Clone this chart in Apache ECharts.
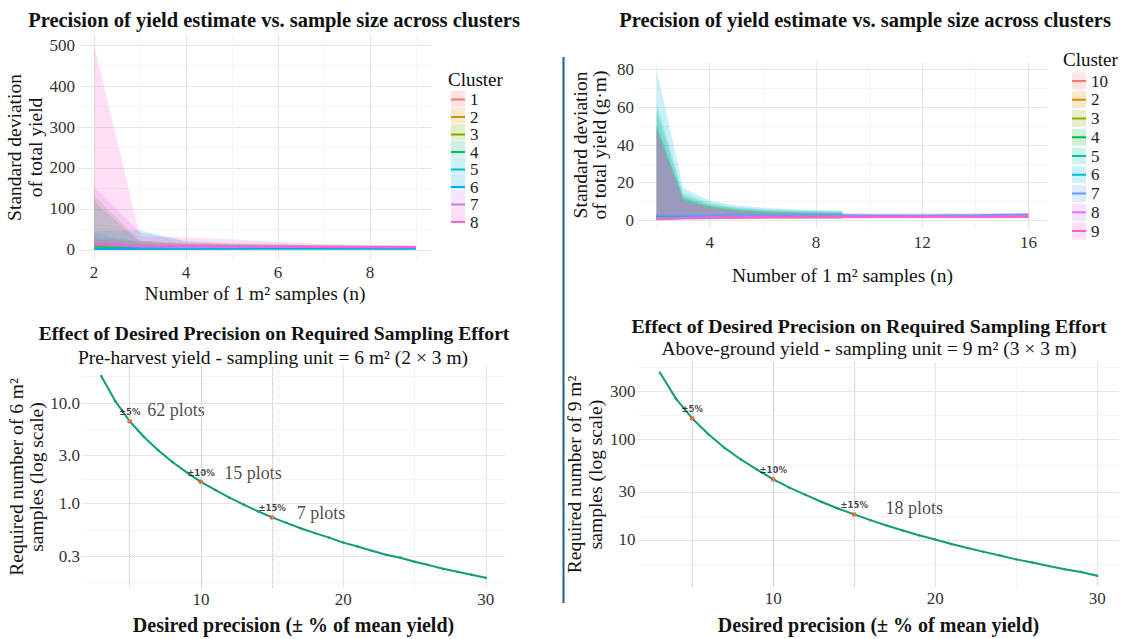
<!DOCTYPE html>
<html>
<head>
<meta charset="utf-8">
<script src="https://cdn.jsdelivr.net/npm/echarts@6/dist/echarts.min.js"></script>
<style>
html, body { margin: 0; padding: 0; background: #fff; }
#main { width: 1124px; height: 639px; }
</style>
</head>
<body>
<div id="main"></div>
<script>
var SERIF = '"Liberation Serif", "Times New Roman", serif';
var SANS = '"DejaVu Sans", sans-serif';

// ---- panel 1: SD of total yield vs. number of 1 m2 samples, clusters 1-8
var p1Sizes = [2, 3, 4, 5, 6, 7, 8, 9];
var p1Clusters = ['1', '2', '3', '4', '5', '6', '7', '8'];
var p1Colors = ['#F8766D', '#CD9600', '#7CAE00', '#00BE67', '#00BFC4', '#00A9FF', '#C77CFF', '#FF61CC'];
var p1Mean = [
  [9, 7, 6, 6, 6, 5, 5, 5],
  [7, 6, 6, 5, 5, 5, 5, 5],
  [10, 7, 6, 6, 5, 5, 5, 5],
  [3, 2, 3, 3, 3, 3, 3, 3],
  [5, 3, 3, 3, 3, 3, 3, 3],
  [2, 3, 3, 3, 4, 4, 4, 4],
  [14, 8, 7, 7, 7, 7, 6, 6],
  [16, 10, 9, 8, 8, 7, 7, 7]
];
var p1Low = [
  [0, 2, 3, 3, 3, 3, 3, 3],
  [0, 1, 2, 2, 2, 2, 3, 3],
  [0, 0, 1, 2, 2, 2, 2, 2],
  [0, 0, 0, 1, 1, 1, 1, 1],
  [0, 0, 0, 1, 1, 1, 1, 1],
  [0, 0, 1, 1, 1, 2, 2, 2],
  [0, 1, 2, 3, 3, 3, 3, 3],
  [0, 1, 2, 3, 3, 3, 3, 3]
];
var p1High = [
  [30, 22, 15, 13, 12, 11, 10, 10],
  [25, 20, 14, 12, 11, 10, 9, 9],
  [132, 22, 16, 14, 12, 11, 10, 9],
  [118, 18, 14, 12, 10, 9, 8, 8],
  [45, 48, 20, 15, 13, 11, 10, 9],
  [42, 14, 11, 10, 9, 8, 8, 8],
  [155, 42, 21, 16, 14, 12, 11, 10],
  [500, 33, 30, 26, 19, 15, 12, 11]
];
var p1XTicks = [2, 4, 6, 8], p1XMinor = [3, 5, 7, 9];
var p1YTicks = [0, 100, 200, 300, 400, 500], p1YMinor = [50, 150, 250, 350, 450];

// ---- panel 2: SD of total yield (g·m), clusters 10, 2-9
var p2Short = [2, 3, 4, 5, 6, 7, 8, 9];
var p2Long = [2, 3, 4, 5, 6, 7, 8, 9, 10, 11, 12, 13, 14, 15, 16];
var p2Clusters = ['10', '2', '3', '4', '5', '6', '7', '8', '9'];
var p2Colors = ['#F8766D', '#D39200', '#93AA00', '#00BA38', '#00C19F', '#00B9E3', '#619CFF', '#DB72FB', '#FF61C3'];
var p2Sizes = [p2Short, p2Short, p2Short, p2Short, p2Short, p2Short, p2Long, p2Long, p2Long];
var p2Mean = [
  [2.6, 2.4, 2.3, 2.3, 2.2, 2.2, 2.2, 2.2],
  [2.3, 2.2, 2.1, 2.1, 2.1, 2.0, 2.0, 2.0],
  [2.0, 2.0, 2.0, 2.0, 2.0, 2.0, 2.0, 2.0],
  [1.8, 1.9, 2.0, 2.0, 2.0, 2.0, 2.0, 2.0],
  [1.5, 1.8, 1.9, 1.9, 2.0, 2.0, 2.0, 2.0],
  [1.0, 1.5, 1.7, 1.8, 1.9, 1.9, 2.0, 2.0],
  [2.6, 2.7, 2.7, 2.7, 2.7, 2.7, 2.7, 2.7, 2.6, 2.6, 2.6, 2.7, 2.8, 3.0, 3.1],
  [1.2, 1.5, 1.7, 1.8, 1.8, 1.9, 1.9, 1.9, 1.9, 1.9, 1.9, 1.9, 1.9, 2.0, 2.0],
  [0.9, 1.3, 1.5, 1.6, 1.7, 1.8, 1.8, 1.9, 2.0, 2.0, 2.0, 2.0, 2.1, 2.1, 2.1]
];
var p2Low = [
  [0.3, 0.8, 1.0, 1.1, 1.2, 1.2, 1.3, 1.3],
  [0.2, 0.7, 0.9, 1.0, 1.1, 1.1, 1.2, 1.2],
  [0.2, 0.6, 0.9, 1.0, 1.0, 1.1, 1.1, 1.1],
  [0.1, 0.6, 0.8, 0.9, 1.0, 1.0, 1.1, 1.1],
  [0.1, 0.5, 0.7, 0.9, 1.0, 1.0, 1.0, 1.1],
  [0.0, 0.4, 0.7, 0.8, 0.9, 1.0, 1.0, 1.0],
  [0.4, 0.9, 1.1, 1.2, 1.3, 1.3, 1.4, 1.4, 1.4, 1.4, 1.5, 1.5, 1.5, 1.6, 1.6],
  [0.2, 0.6, 0.8, 0.9, 1.0, 1.0, 1.1, 1.1, 1.1, 1.2, 1.2, 1.2, 1.2, 1.2, 1.3],
  [0.1, 0.5, 0.7, 0.8, 0.9, 1.0, 1.0, 1.1, 1.1, 1.1, 1.2, 1.2, 1.2, 1.2, 1.2]
];
var p2High = [
  [48, 11, 7.0, 5.5, 4.6, 4.2, 3.9, 3.7],
  [50, 11.5, 7.2, 5.6, 4.7, 4.3, 4.0, 3.8],
  [51, 12, 7.6, 5.9, 4.9, 4.4, 4.1, 3.9],
  [58, 13, 8.5, 6.5, 5.5, 5.0, 4.7, 4.5],
  [62, 14.5, 9.2, 7.0, 6.0, 5.4, 5.1, 4.9],
  [80, 17.5, 10.5, 8.0, 6.8, 6.1, 5.6, 5.3],
  [50, 11, 7.0, 5.2, 4.5, 4.2, 4.0, 3.9, 3.9, 3.9, 3.8, 3.8, 3.9, 4.0, 4.1],
  [49, 10.5, 6.8, 5.0, 4.2, 3.8, 3.5, 3.3, 3.1, 3.0, 3.0, 2.9, 2.9, 2.9, 2.9],
  [47, 10, 6.5, 4.8, 4.0, 3.6, 3.3, 3.1, 2.9, 2.8, 2.8, 2.8, 2.8, 2.8, 2.8]
];
var p2XTicks = [4, 8, 12, 16], p2XMinor = [2, 6, 10, 14];
var p2YTicks = [0, 20, 40, 60, 80], p2YMinor = [10, 30, 50, 70];

// ---- panel 3: pre-harvest, required 6 m2 samples vs desired precision
var p3Precision = [3, 4, 5, 6, 7, 8, 9, 10, 11, 12, 13, 14, 15, 16, 17, 18, 19, 20, 21, 22, 23, 24, 25, 26, 27, 28, 29, 30];
var p3Needed = [18.6, 10.4, 6.6, 4.6, 3.4, 2.6, 2.05, 1.65, 1.37, 1.15, 0.98, 0.84, 0.73, 0.645, 0.57, 0.51,
  0.46, 0.41, 0.375, 0.34, 0.31, 0.29, 0.265, 0.245, 0.225, 0.21, 0.196, 0.183];
var p3MarkX = [5, 10, 15], p3MarkY = [6.6, 1.65, 0.73];
var markText = ['±5%', '±10%', '±15%'];
var p3CountX = [6.2, 11.6, 16.7], p3CountY = [8.5, 2.0, 0.81];
var p3CountText = ['62 plots', '15 plots', '7 plots'];
var p3XTicks = [10, 20, 30], precMinor = [5, 15, 25];
var p3YTicks = [0.3, 1, 3, 10], p3YMinor = [0.164, 0.548, 1.73, 5.48, 18.3];

// ---- panel 4: above-ground, required 9 m2 samples vs desired precision
var p4Precision = p3Precision;
var p4Needed = [460, 252, 161, 112, 82, 63, 50, 40, 33, 28, 23.8, 20.5, 17.9, 15.7, 13.9, 12.4,
  11.1, 10.1, 9.1, 8.3, 7.6, 7.0, 6.4, 5.95, 5.5, 5.1, 4.8, 4.4];
var p4MarkX = [5, 10, 15], p4MarkY = [161, 40, 17.9];
var p4CountX = [16.9], p4CountY = [20.6], p4CountText = ['18 plots'];
var p4YTicks = [10, 30, 100, 300], p4YMinor = [5.77, 17.3, 54.8, 173, 520];

var precisionName = 'Desired precision (± % of mean yield)';
var samplesName = 'Number of 1 m² samples (n)';

function zip(xs, ys) {
  return xs.map(function (x, i) { return [x, ys[i]]; });
}

function majorAxis(grid, type, min, max, ticks, labelMargin, fmt, name, nameGap, nameStyle) {
  var ax = {
    type: type, gridIndex: grid, min: min, max: max,
    axisLine: { show: false },
    axisTick: { show: false, customValues: ticks },
    axisLabel: { customValues: ticks, margin: labelMargin, color: '#333', fontFamily: SERIF, fontSize: 17 },
    splitLine: { show: true, lineStyle: { color: '#e6e6e6', width: 1.2 } },
    name: name, nameLocation: 'middle', nameGap: nameGap,
    nameTextStyle: Object.assign({ fontFamily: SERIF, color: '#141414', fontSize: 19.5 }, nameStyle)
  };
  if (fmt) ax.axisLabel.formatter = fmt;
  if (type === 'log') ax.logBase = 10;
  return ax;
}

function minorAxis(grid, type, min, max, values, position) {
  var ax = {
    type: type, gridIndex: grid, min: min, max: max, position: position,
    axisLine: { show: false },
    axisTick: { show: false, customValues: values },
    axisLabel: { show: false },
    splitLine: { show: true, lineStyle: { color: '#f2f2f2', width: 0.8 } }
  };
  if (type === 'log') ax.logBase = 10;
  return ax;
}

function ribbon(id, axis, xs, lo, hi, color, alpha) {
  var data = xs.map(function (x, i) { return [x, lo[i], hi[i]]; });
  return {
    type: 'custom', name: id + ' band', xAxisIndex: axis, yAxisIndex: axis,
    data: data, encode: { x: 0, y: [1, 2] }, silent: true, z: 1,
    renderItem: function (params, api) {
      if (params.dataIndex !== 0) return null;
      var top = [], bottom = [];
      for (var i = 0; i < data.length; i++) {
        top.push(api.coord([data[i][0], data[i][2]]));
        bottom.unshift(api.coord([data[i][0], data[i][1]]));
      }
      return { type: 'polygon', shape: { points: top.concat(bottom) }, style: { fill: color, opacity: alpha } };
    }
  };
}

function meanLine(id, axis, xs, ys, color) {
  return {
    type: 'line', name: id, xAxisIndex: axis, yAxisIndex: axis,
    data: zip(xs, ys), symbol: 'none', z: 3, silent: true,
    lineStyle: { color: color, width: 2 }, itemStyle: { color: color }
  };
}

var series = [];
p1Clusters.forEach(function (c, k) { series.push(ribbon('A' + c, 0, p1Sizes, p1Low[k], p1High[k], p1Colors[k], 0.2)); });
p1Clusters.forEach(function (c, k) { series.push(meanLine('A' + c, 0, p1Sizes, p1Mean[k], p1Colors[k])); });
p2Clusters.forEach(function (c, k) { series.push(ribbon('B' + c, 2, p2Sizes[k], p2Low[k], p2High[k], p2Colors[k], 0.21)); });
p2Clusters.forEach(function (c, k) { series.push(meanLine('B' + c, 2, p2Sizes[k], p2Mean[k], p2Colors[k])); });

function curveSeries(axis, xs, ys, markX) {
  return {
    type: 'line', xAxisIndex: axis, yAxisIndex: axis, data: zip(xs, ys), silent: true,
    symbol: 'circle', symbolSize: 2.5, showSymbol: true, z: 3,
    lineStyle: { color: '#139c78', width: 2 }, itemStyle: { color: '#139c78' },
    markLine: {
      silent: true, symbol: 'none', label: { show: false },
      lineStyle: { type: 'dotted', color: '#c2c2c2', width: 1 },
      data: markX.map(function (x) { return { xAxis: x }; })
    }
  };
}
function markSeries(axis, xs, ys) {
  return {
    type: 'scatter', xAxisIndex: axis, yAxisIndex: axis, data: zip(xs, ys), silent: true,
    symbolSize: 5, z: 4, itemStyle: { color: '#f05a1a' },
    label: {
      show: true, position: 'top', distance: 2, color: '#111', fontFamily: SANS,
      fontWeight: 'bold', fontSize: 8.5,
      formatter: function (p) { return markText[p.dataIndex]; }
    }
  };
}
function countSeries(axis, xs, ys, texts) {
  return {
    type: 'scatter', xAxisIndex: axis, yAxisIndex: axis, data: zip(xs, ys), silent: true,
    symbolSize: 1, z: 4, itemStyle: { color: 'rgba(0,0,0,0)' },
    label: {
      show: true, position: 'right', distance: 0, color: '#1a1a1a', fontFamily: SERIF, fontSize: 18,
      formatter: function (p) { return texts[p.dataIndex]; }
    }
  };
}
series.push(curveSeries(4, p3Precision, p3Needed, p3MarkX));
series.push(markSeries(4, p3MarkX, p3MarkY));
series.push(countSeries(4, p3CountX, p3CountY, p3CountText));
series.push(curveSeries(6, p4Precision, p4Needed, p4MarkX));
series.push(markSeries(6, p4MarkX, p4MarkY));
series.push(countSeries(6, p4CountX, p4CountY, p4CountText));

function legendPair(names, left, top, itemH, gap) {
  var base = {
    data: names, orient: 'vertical', left: left, top: top, padding: 0,
    itemWidth: 14, itemGap: gap, selectedMode: false
  };
  var boxes = Object.assign({}, base, {
    icon: 'rect', itemHeight: itemH, itemStyle: { opacity: 0.2 },
    formatter: function () { return ''; },
    textStyle: { fontSize: 17, lineHeight: itemH }
  });
  var lines = Object.assign({}, base, {
    icon: 'rect', itemHeight: 2,
    formatter: function (n) { return n.slice(1); },
    textStyle: { fontFamily: SERIF, fontSize: 17, lineHeight: itemH, color: '#1a1a1a' }
  });
  return [boxes, lines];
}

function label(text, x, y, font, align) {
  return {
    type: 'text', x: x, y: y, silent: true,
    style: { text: text, font: font, fill: '#111', align: align || 'center', verticalAlign: 'middle' }
  };
}

var chart = echarts.init(document.getElementById('main'), null, { renderer: 'svg' });
var option = {
  backgroundColor: '#fff',
  animation: false,
  grid: [
    { left: 78, top: 35, width: 354, height: 225, outerBoundsMode: 'none' },
    { left: 638, top: 62, width: 409, height: 166, outerBoundsMode: 'none' },
    { left: 82, top: 366, width: 423, height: 222, outerBoundsMode: 'none' },
    { left: 638, top: 362, width: 481, height: 225, outerBoundsMode: 'none' }
  ],
  xAxis: [
    majorAxis(0, 'value', 1.65, 9.35, p1XTicks, 4, null, samplesName, 23, { lineHeight: 20 }),
    minorAxis(0, 'value', 1.65, 9.35, p1XMinor, 'top'),
    majorAxis(1, 'value', 1.3, 16.7, p2XTicks, 6, null, samplesName, 37, { lineHeight: 20 }),
    minorAxis(1, 'value', 1.3, 16.7, p2XMinor, 'top'),
    majorAxis(2, 'value', 1.65, 31.35, p3XTicks, 3, null, precisionName, 27, { fontSize: 20, lineHeight: 20, fontWeight: 'bold' }),
    minorAxis(2, 'value', 1.65, 31.35, precMinor, 'top'),
    majorAxis(3, 'value', 1.65, 31.35, p3XTicks, 3, null, precisionName, 28, { fontSize: 20, lineHeight: 20, fontWeight: 'bold' }),
    minorAxis(3, 'value', 1.65, 31.35, precMinor, 'top')
  ],
  yAxis: [
    majorAxis(0, 'value', -25, 525, p1YTicks, 3, null, 'Standard deviation\nof total yield', 30, { lineHeight: 21 }),
    minorAxis(0, 'value', -25, 525, p1YMinor, 'right'),
    majorAxis(1, 'value', -4, 84, p2YTicks, 4, null, 'Standard deviation\nof total yield (g·m)', 29, { lineHeight: 19 }),
    minorAxis(1, 'value', -4, 84, p2YMinor, 'right'),
    majorAxis(2, 'log', 0.145, 23.4, p3YTicks, 2, function (v) { return Number(v).toFixed(1); },
      'Required number of 6 m²\nsamples (log scale)', 35, { lineHeight: 20 }),
    minorAxis(2, 'log', 0.145, 23.4, p3YMinor, 'right'),
    majorAxis(3, 'log', 3.4, 586, p4YTicks, 2.5, null,
      'Required number of 9 m²\nsamples (log scale)', 26.5, { lineHeight: 21 }),
    minorAxis(3, 'log', 3.4, 586, p4YMinor, 'right')
  ],
  legend: legendPair(p1Clusters.map(function (c) { return 'A' + c; }), 451, 91, 16, 0.5)
    .concat(legendPair(p2Clusters.map(function (c) { return 'B' + c; }), 1072, 72.5, 17, 1.75)),
  graphic: [
    label('Precision of yield estimate vs. sample size across clusters', 274, 20, 'bold 20.5px ' + SERIF),
    label('Precision of yield estimate vs. sample size across clusters', 865, 20, 'bold 20.5px ' + SERIF),
    label('Effect of Desired Precision on Required Sampling Effort', 274, 333, 'bold 19.6px ' + SERIF),
    label('Pre-harvest yield - sampling unit = 6 m² (2 × 3 m)', 273, 357, '19.5px ' + SERIF),
    label('Effect of Desired Precision on Required Sampling Effort', 869, 326, 'bold 19.8px ' + SERIF),
    label('Above-ground yield - sampling unit = 9 m² (3 × 3 m)', 869, 348, '19.5px ' + SERIF),
    label('Cluster', 448, 79, '19px ' + SERIF, 'left'),
    label('Cluster', 1063, 59, '19px ' + SERIF, 'left'),
    {
      type: 'line', silent: true,
      shape: { x1: 563.5, y1: 57, x2: 563.5, y2: 603 },
      style: { stroke: '#1d5f8c', lineWidth: 2 }
    }
  ],
  series: series
};
chart.setOption(option);
</script>
</body>
</html>
